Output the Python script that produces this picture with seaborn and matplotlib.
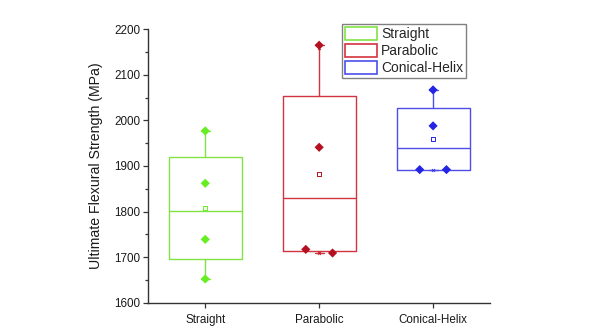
import numpy as np
import pandas as pd
import matplotlib
matplotlib.use("Agg")
import matplotlib.pyplot as plt
from matplotlib.patches import Patch
from matplotlib.ticker import MultipleLocator
import seaborn as sns

# Flexural strength measurements (MPa) per reinforcement geometry
categories = ["Straight", "Parabolic", "Conical-Helix"]
straight = [1977, 1862, 1739, 1652]
parabolic = [2165, 1941, 1717, 1709]
conical_helix = [2067, 1988, 1892, 1892]
series = [straight, parabolic, conical_helix]

box_colors = ["#82e344", "#d3343f", "#4e4eea"]
point_colors = ["#66ee22", "#b5101f", "#2424e4"]

sns.set_style("ticks")
plt.rcParams["font.family"] = ["Liberation Sans", "DejaVu Sans"]

fig = plt.figure(figsize=(5.97, 3.29), dpi=100)
ax = fig.add_axes([0.2484, 0.080, 0.8208 - 0.2484, 0.911 - 0.080])


def spread_offsets(values, tol=20.0, step=0.235):
    """Side-by-side offsets for points whose values nearly coincide."""
    order = np.argsort(values)[::-1]
    offs = np.zeros(len(values))
    groups, cur = [], [order[0]]
    for i in order[1:]:
        if abs(values[cur[-1]] - values[i]) < tol:
            cur.append(i)
        else:
            groups.append(cur)
            cur = [i]
    groups.append(cur)
    for g in groups:
        k = len(g)
        for j, idx in enumerate(g):
            offs[idx] = (j - (k - 1) / 2) * step
    return offs


rows = []
stats = []
for pos, (name, vals) in enumerate(zip(categories, series)):
    v = np.asarray(vals, dtype=float)
    offs = spread_offsets(v)
    for val, o in zip(v, offs):
        rows.append({"category": name, "value": val, "x": pos + o})
    q1, med, q3 = np.percentile(v, [25, 50, 75], method="midpoint")
    stats.append(dict(label=name, med=med, q1=q1, q3=q3,
                      whislo=v.min(), whishi=v.max(), mean=v.mean(), fliers=[]))
df = pd.DataFrame(rows)

summary = pd.DataFrame({
    "category": categories,
    "x": np.arange(len(categories), dtype=float),
    "mean": [s["mean"] for s in stats],
    "p1": [np.percentile(v, 1) for v in series],
    "p99": [np.percentile(v, 99) for v in series],
})

# Boxes: interquartile range, median line, whiskers to min/max
art = ax.bxp(stats, positions=range(len(categories)), widths=0.64,
             showfliers=False, showmeans=False, showcaps=True,
             capwidths=0.08, manage_ticks=False)
for i, c in enumerate(box_colors):
    art["boxes"][i].set(color=c, linewidth=1.0)
    art["medians"][i].set(color=c, linewidth=1.0)
    for ln in art["whiskers"][2 * i:2 * i + 2] + art["caps"][2 * i:2 * i + 2]:
        ln.set(color=c, linewidth=1.0)

# Mean (open square) and 1%/99% markers
for i, c in enumerate(point_colors):
    sub = summary.iloc[[i]]
    sns.scatterplot(data=sub, x="x", y="mean", marker="s", s=7,
                    facecolor="none", edgecolor=c, linewidth=0.7,
                    ax=ax, zorder=3, legend=False)
    for col in ["p1", "p99"]:
        sns.scatterplot(data=sub, x="x", y=col, marker="x", s=5,
                        color=c, linewidth=0.5, ax=ax, zorder=2.5,
                        legend=False)

# Individual measurements
sns.scatterplot(data=df, x="x", y="value", hue="category",
                palette=point_colors, hue_order=categories, marker="D",
                s=22, edgecolor=None, linewidth=0, ax=ax, zorder=4,
                legend=False)

ax.set_xlim(-0.5, 2.5)
ax.set_ylim(1600, 2200)
ax.set_xticks(range(len(categories)))
ax.set_xticklabels(categories)
ax.yaxis.set_major_locator(MultipleLocator(100))
ax.yaxis.set_minor_locator(MultipleLocator(50))
ax.set_xlabel("")
ax.set_ylabel("Ultimate Flexural Strength (MPa)", fontsize=10.2,
              color="#1a1a1a", labelpad=8)

sns.despine(ax=ax)
for sp in ["left", "bottom"]:
    ax.spines[sp].set_color("#333333")
    ax.spines[sp].set_linewidth(1.0)
ax.tick_params(axis="both", which="major", direction="out", length=3.5,
               width=0.9, color="#333333", labelsize=8.4,
               labelcolor="#1a1a1a", pad=2.5)
ax.tick_params(axis="y", which="minor", direction="out", length=2,
               width=0.9, color="#333333")
ax.tick_params(axis="x", which="major", pad=5)

handles = [Patch(facecolor="white", edgecolor=c, linewidth=1.2, label=n)
           for n, c in zip(categories, box_colors)]
leg = fig.legend(handles=handles, loc="upper left",
                 bbox_to_anchor=(342 / 597, 1 - 24 / 329), fontsize=10,
                 frameon=True, fancybox=False, framealpha=1,
                 edgecolor="#808080", borderpad=0.2, labelspacing=0.22,
                 handlelength=2.3, handleheight=1.05, handletextpad=0.3,
                 borderaxespad=0)
leg.get_frame().set_linewidth(1.0)

fig.savefig("out.png", dpi=100)
